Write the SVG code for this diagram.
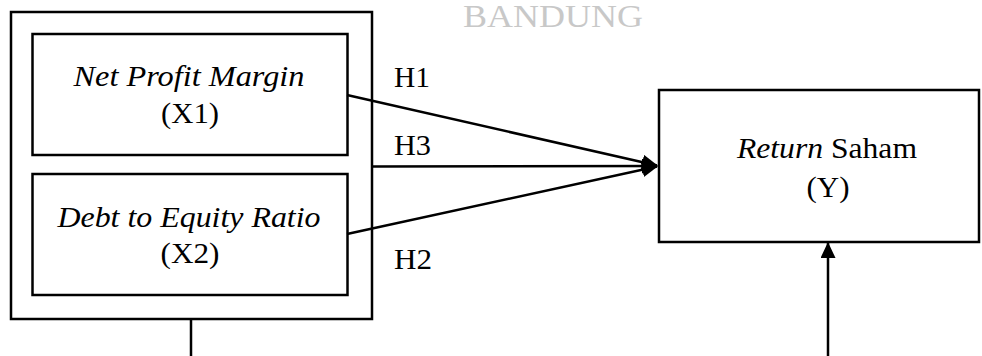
<svg xmlns="http://www.w3.org/2000/svg" width="982" height="356" viewBox="0 0 982 356">
<defs>
<style>
.box{fill:none;stroke:#000;stroke-width:2.5}
.t{font-family:"Liberation Serif","Times New Roman",serif;font-size:29px;fill:#000}
.i{font-style:italic}
.c{stroke:#000;stroke-width:2.5;fill:none}
.wm{font-family:"Liberation Serif","Times New Roman",serif;font-size:31px;fill:#c8c8c8}
</style>
<marker id="ah2" markerWidth="16" markerHeight="15" refX="15" refY="7.5" orient="auto" markerUnits="userSpaceOnUse" viewBox="0 0 16 15">
<path d="M0,0 L16,7.5 L0,15 z" fill="#000"/>
</marker>
</defs>
<rect width="982" height="356" fill="#fff"/>
<text class="wm" x="553" y="27" text-anchor="middle" textLength="180" lengthAdjust="spacingAndGlyphs">BANDUNG</text>
<g id="group-x">
<rect class="box" x="11" y="12" width="361" height="307"/>
</g>
<g id="x1">
<rect class="box" x="32.5" y="34" width="315" height="121"/>
<text class="t i" x="189" y="86" text-anchor="middle" textLength="231" lengthAdjust="spacingAndGlyphs">Net Profit Margin</text>
<text class="t" x="190" y="123" text-anchor="middle" textLength="58" lengthAdjust="spacingAndGlyphs">(X1)</text>
</g>
<g id="x2">
<rect class="box" x="32.5" y="174" width="315" height="121"/>
<text class="t i" x="189" y="227" text-anchor="middle" textLength="263" lengthAdjust="spacingAndGlyphs">Debt to Equity Ratio</text>
<text class="t" x="190" y="263" text-anchor="middle" textLength="59" lengthAdjust="spacingAndGlyphs">(X2)</text>
</g>
<g id="y">
<rect class="box" x="659" y="90" width="320" height="152"/>
<text class="t" x="827" y="158" text-anchor="middle" textLength="180" lengthAdjust="spacingAndGlyphs"><tspan font-style="italic">Return</tspan> Saham</text>
<text class="t" x="828" y="197" text-anchor="middle" textLength="43" lengthAdjust="spacingAndGlyphs">(Y)</text>
</g>
<g id="connectors">
<line class="c" x1="347" y1="95" x2="657" y2="165.5" marker-end="url(#ah2)"/>
<line class="c" x1="372" y1="166.5" x2="657" y2="166" marker-end="url(#ah2)"/>
<line class="c" x1="347" y1="234" x2="657" y2="166.5" marker-end="url(#ah2)"/>
<line class="c" x1="191" y1="319" x2="191" y2="356"/>
<line class="c" x1="828" y1="356" x2="828" y2="243" marker-end="url(#ah2)"/>
</g>
<g id="labels">
<text class="t" x="394" y="87" textLength="36" lengthAdjust="spacingAndGlyphs">H1</text>
<text class="t" x="394" y="155" textLength="37" lengthAdjust="spacingAndGlyphs">H3</text>
<text class="t" x="394" y="269" textLength="38" lengthAdjust="spacingAndGlyphs">H2</text>
</g>
</svg>
